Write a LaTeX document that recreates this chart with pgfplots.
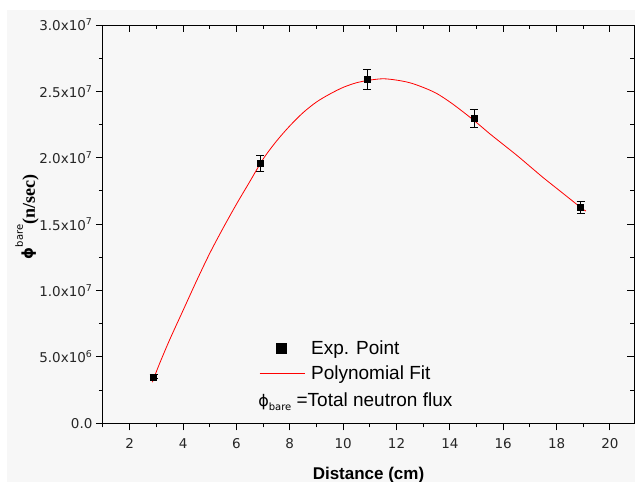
\documentclass[border=0pt]{standalone}
\usepackage{fontspec}
\setmainfont{Liberation Sans}
\newfontfamily\dejavu{DejaVu Sans}
\newfontfamily\lserif{Liberation Serif}
\usepackage{pgfplots}
\pgfplotsset{compat=1.18}
\definecolor{bg}{HTML}{F7F7F7}
\begin{document}
\begin{tikzpicture}
\useasboundingbox (-103pt,-58.7pt) rectangle (532pt,423.3pt);
\fill[bg] (-96pt,-58.7pt) rectangle (532pt,413.3pt);
\pgfplotsset{
  myframe/.style={
    at={(0pt,0pt)}, anchor=south west,
    width=531pt, height=398.3pt, scale only axis,
    xmin=1, xmax=20.9, ymin=0, ymax=3e7,
    xtick={2,4,...,20}, minor xtick={1,3,...,21},
    ytick={0,5e6,1e7,1.5e7,2e7,2.5e7,3e7},
    minor ytick={2.5e6,7.5e6,1.25e7,1.75e7,2.25e7,2.75e7},
    scaled y ticks=false,
    major tick length=7pt, minor tick length=4pt,
    axis line style={line width=1pt, black},
    every tick/.style={black, line width=1pt},
  }
}
\begin{axis}[myframe,
  tick pos=left, tick align=outside,
  xticklabels={2,4,6,8,10,12,14,16,18,20},
  yticklabels={0.0,{5.0x10\textsuperscript{6}},{1.0x10\textsuperscript{7}},{1.5x10\textsuperscript{7}},{2.0x10\textsuperscript{7}},{2.5x10\textsuperscript{7}},{3.0x10\textsuperscript{7}}},
  ticklabel style={font=\dejavu\fontsize{13.5}{15}\selectfont, text=black!85},
  xticklabel style={yshift=-5pt},
  xlabel={Distance (cm)},
  xlabel style={at={(axis description cs:0.5,-0.13)}, anchor=center, font=\bfseries\fontsize{17}{20}\selectfont},
  ylabel={{\dejavu\bfseries\fontsize{15}{16}\selectfont \raisebox{2pt}{ϕ}}\raisebox{12pt}{\dejavu\fontsize{10}{11}\selectfont bare}{\lserif\bfseries\fontsize{18}{20}\selectfont (n/sec)}},
  ylabel style={at={(axis description cs:-0.143,0.518)}, anchor=center},
  legend style={draw=none, fill=none, at={(axis description cs:0.294,0.213)}, anchor=north west,
    font=\fontsize{19}{22}\selectfont, row sep=6pt, inner sep=0pt, nodes={inner sep=2pt}},
  legend cell align=left,
]
\addplot+[only marks, mark=square*, mark size=3pt, black, mark options={fill=black},
  legend image code/.code={\fill[black] (16pt,-5pt) rectangle (26pt,5pt); \path (49pt,0pt);},
  error bars/.cd, y dir=both, y explicit,
  error bar style={line width=0.8pt, black},
  error mark options={rotate=90, mark size=4pt, line width=0.8pt, black},
  ]
  coordinates {
  (2.9,3.5e6) +- (0,1.5e5)
  (6.9,1.956e7) +- (0,6e5)
  (10.9,2.593e7) +- (0,7.5e5)
  (14.9,2.297e7) +- (0,7e5)
  (18.9,1.627e7) +- (0,4.3e5)
  };
\addlegendentry{Exp. Point}
\addplot[red, line width=0.8pt, smooth, no marks,
  legend image code/.code={\draw[red, line width=0.8pt] (0pt,0pt) -- (45pt,0pt); \path (49pt,0pt);}]
  coordinates {
  (2.85,3.1e6) (3.1,4.4e6) (3.5,6.3e6) (4.0,8.5e6) (4.5,1.07e7) (5.0,1.28e7)
  (5.5,1.47e7) (6.0,1.65e7) (6.5,1.82e7) (7.0,1.99e7) (7.5,2.125e7) (8.0,2.24e7) (8.5,2.34e7)
  (9.0,2.42e7) (9.5,2.48e7) (10.0,2.53e7) (10.5,2.565e7) (11.0,2.585e7) (11.5,2.595e7)
  (12.0,2.585e7) (12.5,2.565e7) (13.0,2.53e7) (13.5,2.485e7) (14.0,2.42e7) (14.5,2.345e7)
  (15.0,2.265e7) (15.5,2.18e7) (16.0,2.10e7) (16.5,2.02e7) (17.0,1.935e7) (17.5,1.85e7)
  (18.0,1.77e7) (18.5,1.69e7) (19.0,1.61e7) (19.1,1.60e7)
  };
\addlegendentry{Polynomial Fit}
\node[anchor=west, inner sep=0pt, font=\fontsize{19}{22}\selectfont] at (axis description cs:0.292,0.055)
  {{\dejavu\fontsize{16}{18}\selectfont ϕ}\raisebox{-4pt}{\dejavu\fontsize{10}{11}\selectfont bare} =Total neutron flux};
\end{axis}
\begin{axis}[myframe, tick pos=right, tick align=inside, xticklabels={}, yticklabels={}]
\end{axis}
\end{tikzpicture}
\end{document}
